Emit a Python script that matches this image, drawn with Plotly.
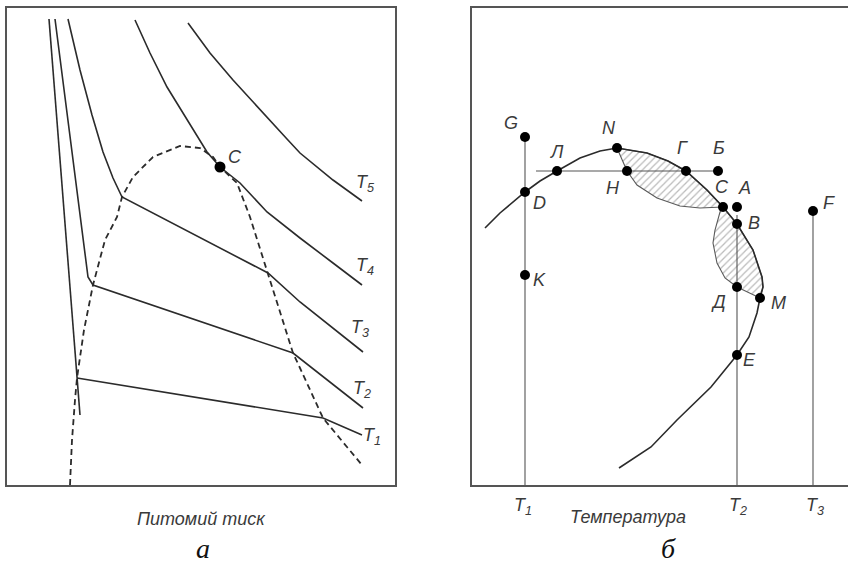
import plotly.graph_objects as go

# ---------------- Panel a: isotherms (x: specific volume/pressure axis units, y upward) -------------
t1_liq_x = [42, 73]
t1_liq_y = [466, 70]
t1_x = [70, 316, 355]
t1_y = [107, 67, 50]

t2_x = [48, 81, 86, 286, 356]
t2_y = [466, 208, 200, 132, 77]

t3_x = [61, 73, 85, 96, 106, 115, 261, 293, 356]
t3_y = [466, 415, 370, 333, 307, 288, 212, 183, 133]

t4_x = [128, 143, 160, 180, 200, 213, 233, 260, 293, 326, 355]
t4_y = [465, 432, 398, 365, 333, 318, 302, 273, 247, 222, 200]

t5_x = [181, 203, 226, 253, 280, 293, 326, 355]
t5_y = [462, 432, 405, 375, 346, 332, 305, 284]

bin_x = [63, 65, 68, 70, 77, 86, 98, 110, 115, 126, 146, 173, 193, 206, 213, 230, 243, 261, 286, 293, 316, 340, 355]
bin_y = [0, 45, 85, 107, 155, 200, 245, 268, 288, 308, 328, 339, 337, 328, 318, 302, 268, 212, 132, 117, 67, 38, 20]

crit_x = [213]
crit_y = [318]

iso_labels = ["T<sub>5</sub>", "T<sub>4</sub>", "T<sub>3</sub>", "T<sub>2</sub>", "T<sub>1</sub>"]
iso_lab_x = [358, 358, 353, 355, 365]
iso_lab_y = [302, 219, 157, 96, 49]

# ---------------- Panel б: temperature diagram -------------
curve_x = [13, 28, 53, 68, 85, 108, 128, 145, 175, 196, 214, 235, 251, 265, 281, 290, 291, 288, 285, 277, 265, 239, 205, 179, 147]
curve_y = [257, 272, 293, 304, 314, 327, 334, 337, 332, 324, 314, 295, 278, 261, 235, 208, 198, 187, 172, 148, 130, 98, 65, 38, 17]

lens1_x = [145, 175, 196, 214, 235, 251, 228, 208, 185, 165, 155, 145]
lens1_y = [337, 332, 324, 314, 295, 278, 277, 279, 287, 300, 314, 337]

lens2_x = [251, 265, 281, 290, 291, 288, 265, 253, 245, 241, 243, 248, 251]
lens2_y = [278, 261, 235, 208, 198, 187, 198, 207, 222, 242, 255, 273, 278]

pt_names = ["G", "Л", "N", "H", "Г", "Б", "С", "A", "B", "Д", "M", "E", "D", "K", "F"]
pt_x = [53, 85, 145, 155, 214, 246, 251, 265, 265, 265, 288, 265, 53, 53, 341]
pt_y = [348, 314, 337, 314, 314, 314, 278, 278, 261, 198, 187, 130, 293, 210, 274]
lab_x = [39, 85, 137, 141, 210, 247, 250, 272, 282, 246, 306, 277, 67, 67, 357]
lab_y = [362, 333, 357, 297, 337, 337, 298, 297, 262, 183, 182, 125, 282, 205, 282]

temp_ticks = ["T<sub>1</sub>", "T<sub>2</sub>", "T<sub>3</sub>"]
temp_x = [53, 265, 341]
temp_top = [348, 270, 274]

hline_x = [64, 246]
hline_y = [314, 314]

LINE = "#2b2b2b"
FONT = "Liberation Sans Narrow, Liberation Sans, Arial"

fig = go.Figure()

def line(x, y, xa="x", ya="y", color=LINE, width=1.6, dash=None):
    fig.add_trace(go.Scatter(x=x, y=y, mode="lines", xaxis=xa, yaxis=ya,
                             line=dict(color=color, width=width, dash=dash),
                             hoverinfo="skip", showlegend=False))

# panel a
line(t1_liq_x, t1_liq_y)
line(t1_x, t1_y)
line(t2_x, t2_y)
line(t3_x, t3_y)
line(t4_x, t4_y)
line(t5_x, t5_y)
line(bin_x, bin_y, width=1.8, dash="6px,4px")
fig.add_trace(go.Scatter(x=crit_x, y=crit_y, mode="markers", xaxis="x", yaxis="y",
                         marker=dict(color="black", size=11), showlegend=False, hoverinfo="skip"))

# panel б hatched lenses
for lx, ly in [(lens1_x, lens1_y), (lens2_x, lens2_y)]:
    fig.add_trace(go.Scatter(x=lx, y=ly, mode="lines", xaxis="x2", yaxis="y2", fill="toself",
                             fillcolor="rgba(0,0,0,0)",
                             fillpattern=dict(shape="/", fgcolor="#777777", bgcolor="white",
                                              size=5, solidity=0.25),
                             line=dict(color="#5a5a5a", width=1.1),
                             hoverinfo="skip", showlegend=False))

line(curve_x, curve_y, xa="x2", ya="y2", width=1.6)
line(hline_x, hline_y, xa="x2", ya="y2", color="#555", width=1.1)
for tx, tt in zip(temp_x, temp_top):
    line([tx, tx], [0, tt], xa="x2", ya="y2", color="#555", width=1.1)

fig.add_trace(go.Scatter(x=pt_x, y=pt_y, mode="markers", xaxis="x2", yaxis="y2",
                         marker=dict(color="black", size=10), showlegend=False, hoverinfo="skip"))

ann = []
def txt(x, y, s, xref, yref, size=17, font=FONT, color="#3a3a3a", yanchor="middle"):
    ann.append(dict(x=x, y=y, text=s, xref=xref, yref=yref, showarrow=False,
                    yanchor=yanchor,
                    font=dict(family=font, size=size, color=color, style="italic")))

for s, x, y in zip(iso_labels, iso_lab_x, iso_lab_y):
    txt(x, y, s, "x", "y", size=18)
txt(228, 328, "C", "x", "y", size=18)
for s, x, y in zip(pt_names, lab_x, lab_y):
    txt(x, y, s, "x2", "y2", size=18)

def py(p):
    return (563 - p) / 563

# bottom texts anchored by their top edge
for s, x in zip(temp_ticks, [51, 266, 343]):
    txt(x, py(493), s, "x2", "paper", size=18, yanchor="top")
txt(156, py(505), "Температура", "x2", "paper", size=18, yanchor="top")
txt(194, py(507), "Питомий тиск", "x", "paper", size=18, yanchor="top")
txt(196, py(531), "а", "x", "paper", size=28, font="Liberation Serif", color="#111", yanchor="top")
txt(196, py(531), "б", "x2", "paper", size=28, font="Liberation Serif", color="#111", yanchor="top")

yd = [(563 - 485) / 563, (563 - 8) / 563]
axcommon = dict(showgrid=False, zeroline=False, showticklabels=False, ticks="",
                linecolor="#555", linewidth=1.6)
fig.update_layout(
    width=848, height=563, margin=dict(l=0, r=0, t=0, b=0),
    paper_bgcolor="white", plot_bgcolor="white", annotations=ann,
    xaxis=dict(domain=[7 / 848, 395 / 848], range=[0, 388], showline=True, mirror=True, **axcommon),
    yaxis=dict(domain=yd, range=[0, 477], showline=True, mirror=True, **axcommon),
    xaxis2=dict(domain=[472 / 848, 1], range=[0, 376], showline=True, mirror=True, anchor="y2", **axcommon),
    yaxis2=dict(domain=yd, range=[0, 477], showline=True, mirror=False, anchor="x2", **axcommon),
)

fig.write_html("out.html", config={"displayModeBar": False},
               post_script="document.body.style.margin='0';document.body.style.overflow='hidden';")
